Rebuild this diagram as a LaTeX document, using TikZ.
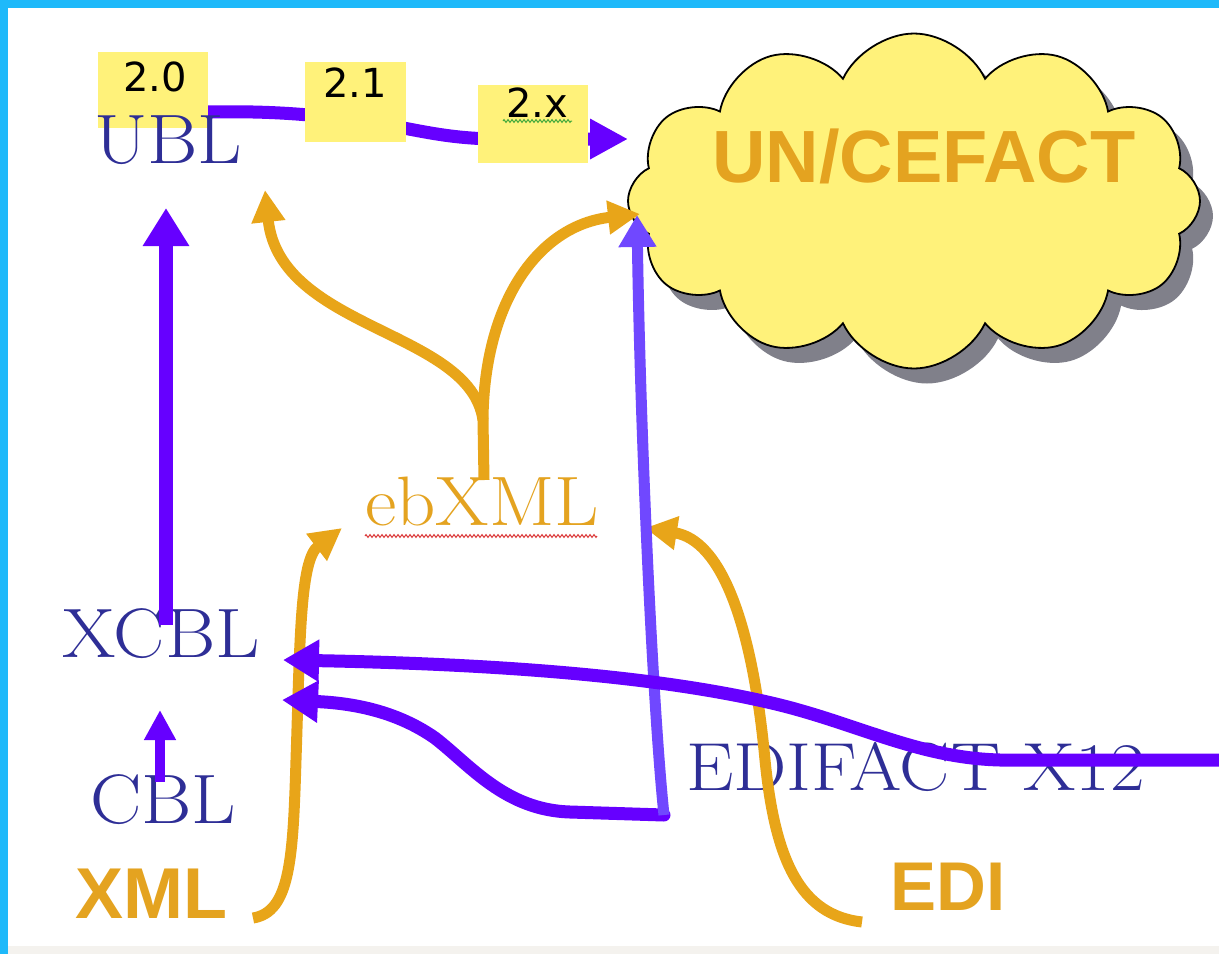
\documentclass[tikz,border=0pt]{standalone}
\usepackage{fontspec}
\usepackage{graphicx}
\usetikzlibrary{arrows.meta,shapes.symbols,decorations.pathmorphing}
\newfontfamily\arialfont{Liberation Sans}
\newfontfamily\notefont{DejaVu Sans}
\definecolor{frameblue}{RGB}{30,185,250}
\definecolor{purpleD}{RGB}{102,0,255}
\definecolor{purpleL}{RGB}{112,72,255}
\definecolor{orangeA}{RGB}{232,165,25}
\definecolor{orangeT}{RGB}{228,163,32}
\definecolor{navyT}{RGB}{46,46,150}
\definecolor{noteyellow}{RGB}{255,242,122}
\definecolor{shadowgray}{RGB}{128,128,138}
\definecolor{stripgray}{RGB}{244,242,238}
\newcommand{\wide}[1]{\scalebox{1.1}[1]{#1}}
\begin{document}
\begin{tikzpicture}[x=1pt,y=-1pt,
  serif/.style={inner sep=0pt, anchor=base west, text=navyT, font=\fontsize{70}{80}\selectfont},
  boldlab/.style={inner sep=0pt, anchor=base west, text=orangeT, font=\arialfont\bfseries\fontsize{72}{80}\selectfont},
  note/.style={fill=noteyellow, inner sep=0pt, anchor=north west},
  notetext/.style={inner sep=0pt, font=\notefont\fontsize{40}{42}\selectfont},
  cloudshape/.style={cloud, cloud puffs=12, cloud puff arc=130, aspect=1.75, inner sep=0pt, minimum width=572pt, minimum height=335pt},
  parrow/.style={draw=purpleD, line width=13pt, -{Triangle[width=40pt,length=36pt]}},
  larrow/.style={draw=purpleL, line width=11pt, -{Triangle[width=36pt,length=32pt]}},
  oarrow/.style={draw=orangeA, line width=11pt, -{Triangle[width=32pt,length=32pt]}},
  oline/.style={draw=orangeA, line width=11pt},
  squiggle/.style={line width=1pt, decorate, decoration={zigzag, amplitude=1.4pt, segment length=4pt}}
]
\useasboundingbox (0,0) rectangle (1219,954);
\fill[white] (0,0) rectangle (1219,954);
\fill[stripgray] (0,946) rectangle (1219,954);
\fill[frameblue] (0,0) rectangle (1219,8);
\fill[frameblue] (0,0) rectangle (8,954);

% cloud with shadow
\node[cloudshape, fill=shadowgray] (cloudshadow) at (927,216) {};
\node[cloudshape, draw=black, line width=1.8pt, fill=noteyellow] (cloud) at (914,201) {};
\node[boldlab, font=\arialfont\bfseries\fontsize{74}{80}\selectfont] (uncefact) at (712,182) {UN/CEFACT};

% version line (under the notes)
\coordinate (v0) at (206,112);
\coordinate (vtip) at (628,139);
\draw[parrow, -{Triangle[width=38pt,length=38pt]}] (v0) .. controls (260,111) and (300,113) .. (355,120) .. controls (410,127) and (440,139) .. (500,139) -- (vtip);

% notes
\node[note, minimum width=110pt, minimum height=76pt] (n20) at (98,52) {};
\node[note, minimum width=101pt, minimum height=80pt] (n21) at (305,62) {};
\node[note, minimum width=110pt, minimum height=78pt] (n2x) at (478,85) {};
\node[notetext] (t20) at (155,77) {2.0};
\node[notetext] (t21) at (355,83) {2.1};
\node[notetext] (t2x) at (537,103) {2.x};
\draw[squiggle, draw={rgb,255:red,70;green,170;blue,60}] (503,121) -- (572,121);

% text labels
\node[serif] (ubl) at (94,163) {\wide{UBL}};
\node[serif] (xcbl) at (62,657) {\wide{XCBL}};
\node[serif] (cbl) at (90,823) {\wide{CBL}};
\node[serif, text=orangeT] (ebxml) at (365,525) {\wide{ebXML}};
\draw[squiggle, draw={rgb,255:red,220;green,60;blue,60}] (365,536) -- (597,536);
\node[serif, font=\fontsize{68}{80}\selectfont] (edifact) at (686,790) {\scalebox{1.11}[1]{EDIFACT X12}};
\node[boldlab] (xml) at (75,918) {XML};
\node[boldlab, font=\arialfont\bfseries\fontsize{69}{80}\selectfont] (edi) at (890,910) {EDI};

% orange arrows
\coordinate (ebtop) at (484,480);
\coordinate (cusp) at (483,420);
\coordinate (ubltip) at (265,190);
\coordinate (cloudtipO) at (640,214);
\draw[oline] (ebtop) -- (cusp);
\draw[oarrow] (cusp) .. controls (470,330) and (280,330) .. (ubltip);
\draw[oarrow] (cusp) .. controls (484,300) and (540,225) .. (cloudtipO);
\coordinate (xmlstart) at (253,918);
\coordinate (ebtipL) at (342,528);
\draw[oarrow] (xmlstart) .. controls (290,912) and (293,860) .. (296,760) .. controls (300,640) and (300,560) .. (ebtipL);
\coordinate (edistart) at (862,922);
\coordinate (ebtipR) at (645,528);
\draw[oarrow] (edistart) .. controls (800,915) and (775,860) .. (765,760) .. controls (752,620) and (720,540) .. (ebtipR);

% purple arrows
\coordinate (xcbltop) at (166,625);
\coordinate (ublbot) at (166,208);
\draw[parrow, line width=14pt, -{Triangle[width=44pt,length=38pt]}] (xcbltop) -- (ublbot);
\coordinate (cbltop) at (160,782);
\coordinate (xcblbot) at (160,710);
\draw[parrow, line width=10pt, -{Triangle[width=30pt,length=30pt]}] (cbltop) -- (xcblbot);
\coordinate (corner) at (664,815);
\coordinate (xcbltipB) at (282,700);
\draw[parrow, line cap=round] (corner) -- (570,812) .. controls (505,810) and (470,765) .. (435,738) .. controls (395,710) and (350,703) .. (xcbltipB);
\coordinate (cloudtipP) at (637,215);
\draw[larrow] (corner) .. controls (652,700) and (640,420) .. (cloudtipP);
\coordinate (rightend) at (1219,760);
\coordinate (xcbltipA) at (283,660);
\draw[parrow] (rightend) -- (1000,760) .. controls (920,758) and (860,725) .. (780,705) .. controls (690,683) and (550,665) .. (xcbltipA);
\end{tikzpicture}
\end{document}
